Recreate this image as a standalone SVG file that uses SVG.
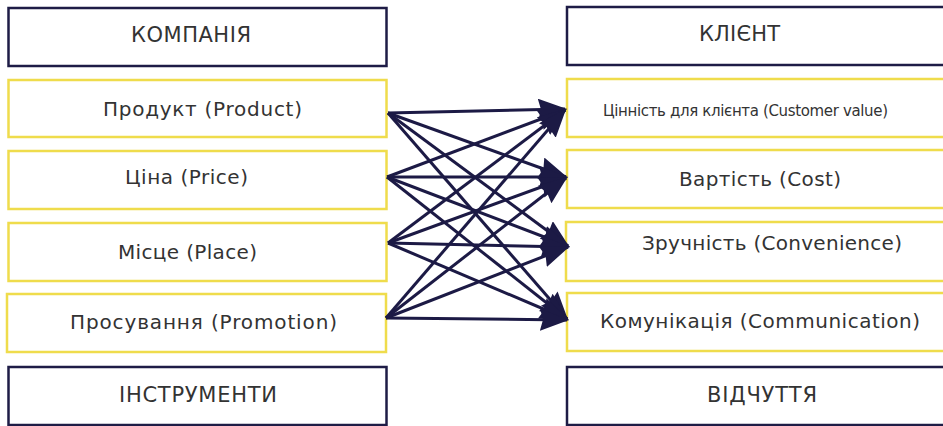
<svg xmlns="http://www.w3.org/2000/svg" width="943" height="426" viewBox="0 0 943 426">
  <style>
    .hd rect { fill: #ffffff; stroke: #1e1c46; stroke-width: 2.5; }
    .it rect { fill: #ffffff; stroke: #efdc4c; stroke-width: 2.5; }
    text { font-family: "DejaVu Sans", "Liberation Sans", sans-serif; fill: #333333; text-anchor: middle; }
    .t { font-size: 20px; }
    .h { font-size: 21px; }
    .s { font-size: 15px; }
    .conn line { stroke: #1c1a45; stroke-width: 3; marker-end: url(#ah); }
  </style>
  <defs>
    <marker id="ah" markerUnits="userSpaceOnUse" markerWidth="32" markerHeight="24" refX="27" refY="11" orient="auto">
      <polygon points="0,0 29,11 0,22 3,11" fill="#1c1a45"/>
    </marker>
  </defs>

  <rect width="943" height="426" fill="#ffffff"/>

  <g id="kompaniia" class="hd">
    <rect x="8.5" y="8" width="378" height="58"/>
    <text class="h" x="191" y="42" textLength="120">КОМПАНІЯ</text>
  </g>
  <g id="produkt" class="it">
    <rect x="8.5" y="80" width="378" height="57"/>
    <text class="t" x="202.5" y="116" textLength="199">Продукт (Product)</text>
  </g>
  <g id="tsina" class="it">
    <rect x="8.5" y="151" width="378" height="58"/>
    <text class="t" x="186.5" y="184" textLength="123">Ціна (Price)</text>
  </g>
  <g id="mistse" class="it">
    <rect x="8.5" y="223" width="378" height="58"/>
    <text class="t" x="187.5" y="259" textLength="139">Місце (Place)</text>
  </g>
  <g id="prosuvannia" class="it">
    <rect x="7" y="294" width="379" height="58"/>
    <text class="t" x="203.5" y="329" textLength="267">Просування (Promotion)</text>
  </g>
  <g id="instrumenty" class="hd">
    <rect x="8.5" y="367" width="378" height="58"/>
    <text class="h" x="198" y="402" textLength="158">ІНСТРУМЕНТИ</text>
  </g>

  <g id="klient" class="hd">
    <rect x="567" y="7" width="380" height="58"/>
    <text class="h" x="739.5" y="41" textLength="81">КЛІЄНТ</text>
  </g>
  <g id="tsinnist" class="it">
    <rect x="567" y="79" width="380" height="58"/>
    <text class="s" x="745.5" y="116" textLength="285">Цінність для клієнта (Customer value)</text>
  </g>
  <g id="vartist" class="it">
    <rect x="567" y="150" width="380" height="58"/>
    <text class="t" x="760" y="186" textLength="162">Вартість (Cost)</text>
  </g>
  <g id="zruchnist" class="it">
    <rect x="566" y="222" width="381" height="59"/>
    <text class="t" x="772" y="250" textLength="260">Зручність (Convenience)</text>
  </g>
  <g id="komunikatsiia" class="it">
    <rect x="567" y="293" width="380" height="58"/>
    <text class="t" x="760" y="328" textLength="320">Комунікація (Communication)</text>
  </g>
  <g id="vidchuttia" class="hd">
    <rect x="567" y="367" width="380" height="58"/>
    <text class="h" x="762" y="402" textLength="110">ВІДЧУТТЯ</text>
  </g>

  <g id="connectors" class="conn">
    <line x1="388" y1="113" x2="565" y2="109"/>
    <line x1="388" y1="113" x2="566" y2="177"/>
    <line x1="388" y1="113" x2="568" y2="246"/>
    <line x1="388" y1="113" x2="567" y2="319"/>
    <line x1="387" y1="177" x2="565" y2="110"/>
    <line x1="387" y1="177" x2="566" y2="177"/>
    <line x1="387" y1="177" x2="568" y2="246"/>
    <line x1="387" y1="177" x2="567" y2="319"/>
    <line x1="388" y1="243" x2="565" y2="110"/>
    <line x1="388" y1="243" x2="566" y2="178"/>
    <line x1="388" y1="243" x2="568" y2="247"/>
    <line x1="388" y1="243" x2="567" y2="319"/>
    <line x1="386" y1="318" x2="565" y2="110"/>
    <line x1="386" y1="318" x2="566" y2="178"/>
    <line x1="386" y1="318" x2="568" y2="247"/>
    <line x1="386" y1="318" x2="567" y2="320"/>
  </g>
</svg>
